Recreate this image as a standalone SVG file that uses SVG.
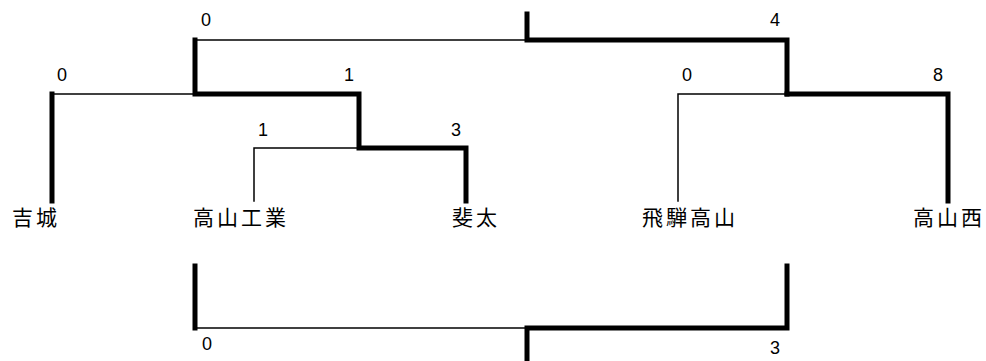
<svg xmlns="http://www.w3.org/2000/svg" width="986" height="361" viewBox="0 0 986 361">
<style>
.thin{fill:none;stroke:#000;stroke-width:1.5;stroke-linecap:square}
.thick{fill:none;stroke:#000;stroke-width:5;stroke-linecap:square;stroke-linejoin:miter}
.team{font-family:"Noto Sans CJK JP","Noto Sans CJK SC",sans-serif;font-size:21px;letter-spacing:3px;fill:#000}
.score{font-family:"Liberation Sans",Arial,sans-serif;font-size:18px;fill:#000;text-anchor:middle}
</style>
<rect width="986" height="361" fill="#fff"/>
<g id="connectors">
  <path class="thin" d="M197,40 H525"/>
  <path class="thick" d="M527,14 V40 H787 V94"/>
  <path class="thick" d="M195,40 V94 H359 V148 H466 V201"/>
  <path class="thin" d="M52,94 H193"/>
  <path class="thick" d="M52,94 V201"/>
  <path class="thin" d="M254,201 V148 H357"/>
  <path class="thin" d="M678,201 V94 H785"/>
  <path class="thick" d="M787,94 H948 V201"/>
  <path class="thick" d="M195,266 V328"/>
  <path class="thin" d="M197,328 H525"/>
  <path class="thick" d="M787,266 V328 H527 V361"/>
</g>
<g id="scores">
  <text class="score" x="206" y="26">0</text>
  <text class="score" x="775" y="26">4</text>
  <text class="score" x="62" y="81">0</text>
  <text class="score" x="349" y="81">1</text>
  <text class="score" x="263" y="136">1</text>
  <text class="score" x="456" y="136">3</text>
  <text class="score" x="687" y="81">0</text>
  <text class="score" x="938" y="81">8</text>
  <text class="score" x="207" y="350">0</text>
  <text class="score" x="775" y="354">3</text>
</g>
<g id="team-yoshiki"><text class="team" x="12" y="225">吉城</text></g>
<g id="team-takayama-kogyo"><text class="team" x="193" y="225">高山工業</text></g>
<g id="team-hida"><text class="team" x="452" y="225">斐太</text></g>
<g id="team-hida-takayama"><text class="team" x="642" y="225">飛騨高山</text></g>
<g id="team-takayama-nishi"><text class="team" x="913" y="225">高山西</text></g>
</svg>
